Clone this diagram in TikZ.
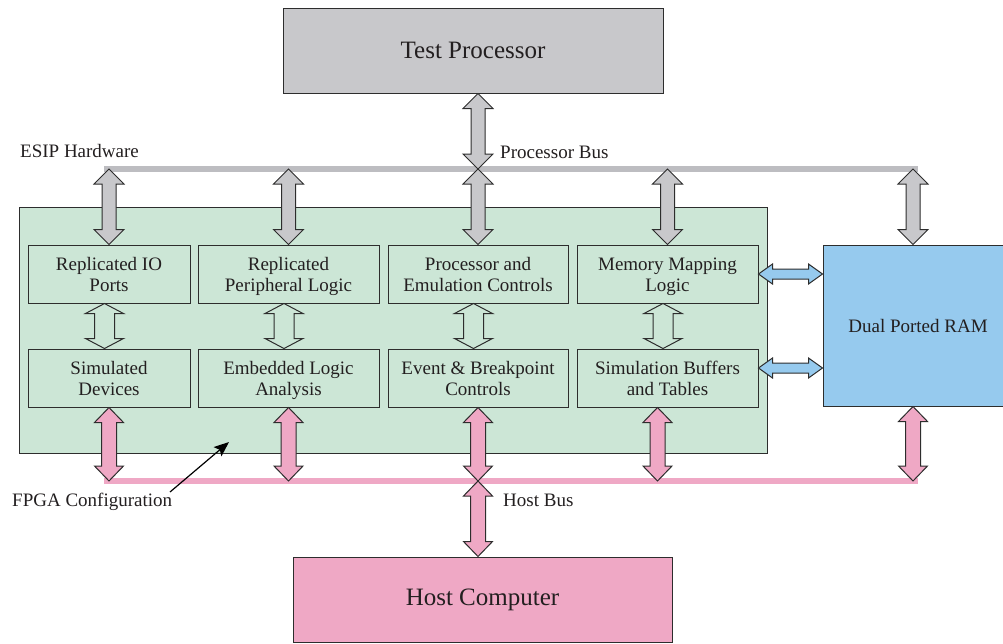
\documentclass[tikz,border=0pt]{standalone}
\usepackage{fontspec}
\setmainfont{Liberation Serif}
\usetikzlibrary{calc,arrows.meta}
\definecolor{tpgray}{RGB}{200,200,203}
\definecolor{busgray}{RGB}{189,189,193}
\definecolor{fgreen}{RGB}{204,230,214}
\definecolor{hpink}{RGB}{239,168,197}
\definecolor{rblue}{RGB}{150,202,238}
\definecolor{edgec}{RGB}{45,45,45}
\definecolor{txt}{RGB}{35,31,32}
% vertical double arrow: style, top, bottom, head half width, shaft half width, head length
\newcommand{\vdarrow}[6]{%
  \path[#1] (#2) -- ($(#2)+(#4,#6)$) -- ($(#2)+(#5,#6)$) -- ($(#3)+(#5,-#6)$) -- ($(#3)+(#4,-#6)$) -- (#3)
   -- ($(#3)+(-#4,-#6)$) -- ($(#3)+(-#5,-#6)$) -- ($(#2)+(-#5,#6)$) -- ($(#2)+(-#4,#6)$) -- cycle;}
% horizontal double arrow: style, left, right, head half width, shaft half width, head length
\newcommand{\hdarrow}[6]{%
  \path[#1] (#2) -- ($(#2)+(#6,-#4)$) -- ($(#2)+(#6,-#5)$) -- ($(#3)+(-#6,-#5)$) -- ($(#3)+(-#6,-#4)$) -- (#3)
   -- ($(#3)+(-#6,#4)$) -- ($(#3)+(-#6,#5)$) -- ($(#2)+(#6,#5)$) -- ($(#2)+(#6,#4)$) -- cycle;}
\begin{document}
\begin{tikzpicture}[x=1pt,y=-1pt,
  every node/.style={text=txt},
  lbl/.style={font=\fontsize{19}{21}\selectfont, inner sep=0pt},
  inbox/.style={draw=edgec, line width=1pt, fill=fgreen, align=center, inner sep=0pt,
     minimum height=58pt, text height=35pt, text depth=0pt, font=\fontsize{19}{21}\selectfont},
  bigbox/.style={draw=edgec, line width=1pt, inner sep=0pt, font=\fontsize{25}{28}\selectfont},
  grayarr/.style={draw=edgec, line width=1pt, fill=tpgray, line join=miter},
  pinkarr/.style={draw=edgec, line width=1pt, fill=hpink, line join=miter},
  hollowarr/.style={draw=edgec, line width=1pt, line join=miter},
  bluearr/.style={draw=edgec, line width=1pt, fill=rblue, line join=miter},
  busg/.style={draw=busgray, line width=6pt},
  busp/.style={draw=hpink, line width=6pt},
  pointer/.style={draw=black, line width=1.2pt, -{Stealth[length=15pt,width=12pt,inset=3pt]}}]
\useasboundingbox (0,0) rectangle (1003,643);

% FPGA area
\node[draw=edgec, line width=1pt, fill=fgreen, minimum width=748pt, minimum height=246pt, inner sep=0pt] (fpga) at (393,330) {};

% inner boxes
\node[inbox, minimum width=162pt] (io)  at (109,274)   {Replicated IO\\Ports};
\node[inbox, minimum width=181pt] (per) at (288.5,274) {Replicated\\Peripheral Logic};
\node[inbox, minimum width=180pt] (pec) at (478,274)   {Processor and\\Emulation Controls};
\node[inbox, minimum width=181pt] (mml) at (667.5,274) {Memory Mapping\\Logic};
\node[inbox, minimum width=162pt] (sim) at (109,378)   {Simulated\\Devices};
\node[inbox, minimum width=181pt] (ela) at (288.5,378) {Embedded Logic\\Analysis};
\node[inbox, minimum width=180pt] (ebc) at (478,378)   {Event \& Breakpoint\\Controls};
\node[inbox, minimum width=181pt] (sbt) at (667.5,378) {Simulation Buffers\\and Tables};

% big boxes
\node[bigbox, fill=tpgray, minimum width=380pt, minimum height=85pt] (tp) at (473,50.5) {Test Processor};
\node[bigbox, fill=hpink, minimum width=379pt, minimum height=85pt] (hc) at (482.5,599.5) {Host Computer};
\node[draw=edgec, line width=1pt, fill=rblue, minimum width=190pt, minimum height=161pt, inner sep=0pt,
      font=\fontsize{19}{21}\selectfont] (ram) at (918,325.5) {Dual Ported RAM};

% buses
\coordinate (pbL) at (104,169);
\coordinate (pbR) at (918,169);
\coordinate (hbL) at (104,481);
\coordinate (hbR) at (918,481);
\draw[busg] (pbL) -- (pbR);
\draw[busp] (hbL) -- (hbR);

% processor bus taps
\coordinate (g1) at (pbL -| io.north);
\coordinate (g2) at (pbL -| per.north);
\coordinate (g3) at (pbL -| pec.north);
\coordinate (g4) at (pbL -| mml.north);
\coordinate (g5) at (913,169);
\coordinate (tpb) at (tp.south -| pec.north);
\coordinate (ramt) at (ram.north -| g5);
\vdarrow{grayarr}{tpb}{g3}{15}{7}{15}
\vdarrow{grayarr}{g1}{io.north}{15}{7}{15}
\vdarrow{grayarr}{g2}{per.north}{15}{7}{15}
\vdarrow{grayarr}{g3}{pec.north}{15}{7}{15}
\vdarrow{grayarr}{g4}{mml.north}{15}{7}{15}
\vdarrow{grayarr}{g5}{ramt}{15}{7}{15}

% host bus taps
\coordinate (p1) at (hbL -| sim.south);
\coordinate (p2) at (hbL -| ela.south);
\coordinate (p3) at (hbL -| ebc.south);
\coordinate (p4) at (657.5,481);
\coordinate (p5) at (913,481);
\coordinate (sbts) at (sbt.south -| p4);
\coordinate (rams) at (ram.south -| p5);
\coordinate (hct) at (hc.north -| ebc.south);
\vdarrow{pinkarr}{sim.south}{p1}{14.5}{7.5}{15}
\vdarrow{pinkarr}{ela.south}{p2}{14.5}{7.5}{15}
\vdarrow{pinkarr}{ebc.south}{p3}{14.5}{7.5}{15}
\vdarrow{pinkarr}{sbts}{p4}{14.5}{7.5}{15}
\vdarrow{pinkarr}{rams}{p5}{14.5}{7.5}{15}
\vdarrow{pinkarr}{p3}{hct}{14.5}{7.5}{15}

% hollow arrows between rows
\coordinate (h1t) at ($(io.south)+(-4.5,0)$);  \coordinate (h1b) at ($(sim.north)+(-4.5,0)$);
\coordinate (h2t) at ($(per.south)+(-4.5,0)$); \coordinate (h2b) at ($(ela.north)+(-4.5,0)$);
\coordinate (h3t) at ($(pec.south)+(-4.5,0)$); \coordinate (h3b) at ($(ebc.north)+(-4.5,0)$);
\coordinate (h4t) at ($(mml.south)+(-4.5,0)$); \coordinate (h4b) at ($(sbt.north)+(-4.5,0)$);
\vdarrow{hollowarr}{h1t}{h1b}{19}{10}{10}
\vdarrow{hollowarr}{h2t}{h2b}{19}{10}{10}
\vdarrow{hollowarr}{h3t}{h3b}{19}{10}{10}
\vdarrow{hollowarr}{h4t}{h4b}{19}{10}{10}

% blue arrows to RAM
\coordinate (b1l) at (mml.east);
\coordinate (b1r) at (ram.west |- mml.east);
\coordinate (b2l) at ($(sbt.east)+(0,-10)$);
\coordinate (b2r) at (ram.west |- b2l);
\hdarrow{bluearr}{b1l}{b1r}{10}{5}{14}
\hdarrow{bluearr}{b2l}{b2r}{10}{5}{14}

% labels
\node[lbl, anchor=base west] (esip) at (20,157) {ESIP Hardware};
\node[lbl, anchor=base west] (pbus) at (500,158) {Processor Bus};
\node[lbl, anchor=base west] (hbus) at (503,506) {Host Bus};
\node[lbl, anchor=base west] (fpgac) at (12,506) {FPGA Configuration};
\coordinate (fpt) at (170,492);
\coordinate (fph) at (229,442);
\draw[pointer] (fpt) -- (fph);
\end{tikzpicture}
\end{document}
